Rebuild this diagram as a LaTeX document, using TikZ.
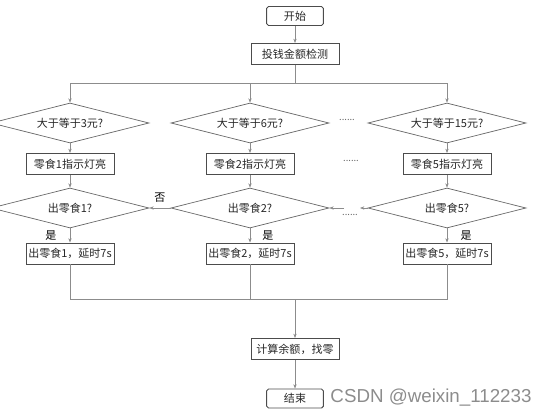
\documentclass[tikz,border=0pt]{standalone}
\usepackage{fontspec}
\setmainfont{Noto Sans CJK SC}
\newfontfamily\markfont{Liberation Sans}
\usetikzlibrary{shapes.geometric,arrows.meta}

\begin{document}
\begin{tikzpicture}[x=0.3mm, y=-0.3mm,
    font=\fontsize{9.4}{11}\selectfont,
    box/.style={draw=black!70, line width=0.8pt, minimum width=26.4mm, minimum height=6.3mm, inner sep=1pt, text=black!85},
    term/.style={box, rounded corners=1.5pt, minimum width=17mm, minimum height=5.7mm},
    cond/.style={diamond, draw=black!60, line width=0.6pt, aspect=4, inner sep=0pt, minimum width=47.4mm, minimum height=12mm, text=black!85},
    link/.style={draw=black!45, line width=0.5pt},
    arr/.style={link, -{Stealth[length=1.3mm, width=1mm]}},
    dots/.style={text=black!60, font=\fontsize{8}{9}\selectfont}]
    \useasboundingbox (0,0) rectangle (545,412);
    % top
    \node at (295,16) [term] (start) {开始};
    \node at (295,54) [box] (detect) {投钱金额检测};
    \coordinate (split) at (295,83);
    % three columns
    \node at (70,123) [cond] (c1) {大于等于3元?};
    \node at (250,123) [cond] (c2) {大于等于6元?};
    \node at (447,123) [cond] (c3) {大于等于15元?};
    \node at (347,120) [dots] (d1) {......};
    \node at (351,161) [dots] (d2) {......};
    \node at (70,164) [box] (l1) {零食1指示灯亮};
    \node at (250,164) [box] (l2) {零食2指示灯亮};
    \node at (447,164) [box] (l3) {零食5指示灯亮};
    \node at (70,208) [cond] (q1) {出零食1?};
    \node at (250,208) [cond] (q2) {出零食2?};
    \node at (447,208) [cond] (q3) {出零食5?};
    \node at (350,215) [dots] (d3) {......};
    \coordinate (ql) at (344,208);
    \coordinate (qr) at (360,208);
    \node at (70,253.5) [box] (o1) {出零食1，延时7s};
    \node at (250,253.5) [box] (o2) {出零食2，延时7s};
    \node at (447,253.5) [box] (o3) {出零食5，延时7s};
    \node at (51,236) (y1) {是};
    \node at (268,236) (y2) {是};
    \node at (466,236) (y3) {是};
    % bottom
    \coordinate (merge) at (295,299.5);
    \node at (295,349) [box] (calc) {计算余额，找零};
    \node at (295,398.5) [term] (stop) {结束};
    \node at (431,398) [text=black!45, font=\markfont\fontsize{16}{18}\selectfont] (mark) {CSDN @weixin\_112233};
    % connectors
    \draw[arr] (start) -- (detect);
    \draw[link] (detect) -- (split);
    \draw[arr] (split) -| (c1);
    \draw[arr] (split) -| (c2);
    \draw[arr] (split) -| (c3);
    \foreach \i in {1,2,3} {
      \draw[arr] (c\i) -- (l\i);
      \draw[arr] (l\i) -- (q\i);
      \draw[arr] (q\i) -- (o\i);
    }
    \draw[arr] (q2) -- node[above, yshift=1pt] {否} (q1);
    \draw[arr] (ql) -- (q2);
    \draw[arr] (q3) -- (qr);
    \draw[link] (o1) |- (merge);
    \draw[link] (o3) |- (merge);
    \draw[link] (o2) -- (o2 |- merge);
    \draw[arr] (merge) -- (calc);
    \draw[arr] (calc) -- (stop);
\end{tikzpicture}
\end{document}
